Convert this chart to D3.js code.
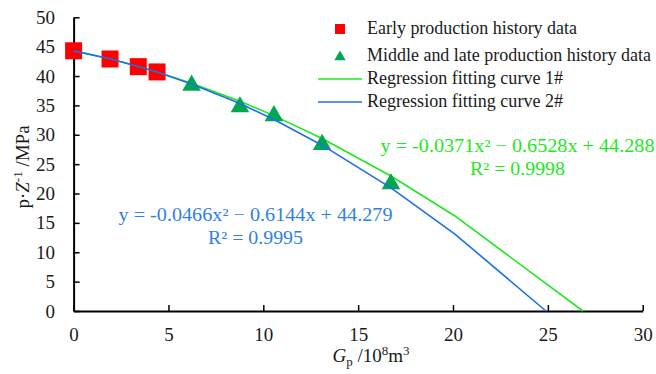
<!DOCTYPE html>
<html>
<head>
<meta charset="utf-8">
<script src="https://cdn.jsdelivr.net/npm/d3@7"></script>
<style>
  body { margin: 0; background: #fff; }
  svg { display: block; font-family: "Liberation Serif", "Times New Roman", serif; }
</style>
</head>
<body>
<div id="chart"></div>
<script>
var width = 656,
    height = 374;

// early production history (squares)
var earlyGp = [0, 1.92, 3.41, 4.4];
var earlyPZ = [44.3, 42.9, 41.6, 40.7];

// middle and late production history (triangles)
var lateGp = [6.22, 8.77, 10.56, 13.1, 16.73];
var latePZ = [38.6, 34.9, 33.4, 28.5, 21.8];

// fitted curves
var curveGp1 = [0, 1.92, 3.41, 4.4, 6.22, 8.77, 10.56, 13.1, 16.73, 20.1, 26.85];
var curvePZ1 = [44.29, 42.9, 41.63, 40.7, 38.79, 35.71, 33.26, 29.37, 22.98, 16.18, 0];
var curveGp2 = [0, 1.92, 3.41, 4.4, 6.22, 8.77, 10.56, 13.1, 16.73, 20.1, 24.9];
var curvePZ2 = [44.28, 42.93, 41.64, 40.67, 38.65, 35.31, 32.59, 28.23, 20.96, 13.1, 0];

var xTicks = [0, 5, 10, 15, 20, 25, 30];
var yTicks = [0, 5, 10, 15, 20, 25, 30, 35, 40, 45, 50];

var legendNames = ["Early production history data", "Middle and late production history data",
                   "Regression fitting curve 1#", "Regression fitting curve 2#"];
var legendLens = [210, 284, 196, 196];

var red = "#ff0000", dkgreen = "#00a650", green = "#1ee81e", blue = "#1f6fe8";
var fs = 19;

var x = d3.scaleLinear().domain([0, 30]).range([73.6, 642.7]);
var y = d3.scaleLinear().domain([0, 50]).range([311, 17.3]);

var svg = d3.select("#chart").append("svg")
    .attr("width", width)
    .attr("height", height);

// axes
var xAxis = svg.append("g")
    .attr("transform", "translate(0," + y(0) + ")")
    .call(d3.axisBottom(x).tickValues(xTicks).tickSizeInner(-6).tickSizeOuter(0).tickPadding(16.5));
var yAxis = svg.append("g")
    .attr("transform", "translate(" + x(0) + ",0)")
    .call(d3.axisLeft(y).tickValues(yTicks).tickSizeInner(-6).tickSizeOuter(0).tickPadding(18.5));

[xAxis, yAxis].forEach(function(a) {
  a.select(".domain").attr("stroke", "#000").attr("stroke-width", 2);
  a.selectAll(".tick line").attr("stroke", "#000").attr("stroke-width", 1.5);
  a.selectAll(".tick text")
    .attr("fill", "#1a1a1a")
    .style("font-family", "Liberation Serif, Times New Roman, serif")
    .style("font-size", fs + "px");
});

// curves
var line = d3.line()
    .x(function(d) { return x(d[0]); })
    .y(function(d) { return y(d[1]); });

svg.append("path")
    .datum(d3.zip(curveGp1, curvePZ1))
    .attr("d", line)
    .attr("fill", "none")
    .attr("stroke", green)
    .attr("stroke-width", 1.6);

// markers
var sq = 17;
svg.selectAll("rect.early")
    .data(d3.zip(earlyGp, earlyPZ))
    .enter().append("rect")
    .attr("class", "early")
    .attr("x", function(d) { return x(d[0]) - sq / 2; })
    .attr("y", function(d) { return y(d[1]) - sq / 2; })
    .attr("width", sq)
    .attr("height", sq)
    .attr("fill", red);

var tri = d3.symbol().type(d3.symbolTriangle).size(150);
svg.selectAll("path.late")
    .data(d3.zip(lateGp, latePZ))
    .enter().append("path")
    .attr("class", "late")
    .attr("d", tri)
    .attr("transform", function(d) { return "translate(" + x(d[0]) + "," + (y(d[1]) + 1) + ")"; })
    .attr("fill", dkgreen);

svg.append("path")
    .datum(d3.zip(curveGp2, curvePZ2))
    .attr("d", line)
    .attr("fill", "none")
    .attr("stroke", blue)
    .attr("stroke-width", 1.6);

// legend
var lg = svg.append("g");
var rowY = [29, 56, 79, 102];
lg.append("rect").attr("x", 335).attr("y", rowY[0] - 5).attr("width", 10).attr("height", 10).attr("fill", red);
lg.append("path").attr("d", d3.symbol().type(d3.symbolTriangle).size(55))
    .attr("transform", "translate(340," + (rowY[1] + 1) + ")").attr("fill", dkgreen);
lg.append("line").attr("x1", 318).attr("x2", 362).attr("y1", rowY[2]).attr("y2", rowY[2])
    .attr("stroke", green).attr("stroke-width", 1.6);
lg.append("line").attr("x1", 318).attr("x2", 362).attr("y1", rowY[3]).attr("y2", rowY[3])
    .attr("stroke", blue).attr("stroke-width", 1.6);
lg.selectAll("text")
    .data(legendNames)
    .enter().append("text")
    .attr("x", 367)
    .attr("y", function(d, i) { return rowY[i]; })
    .attr("dy", "0.3em")
    .attr("font-size", 18)
    .attr("textLength", function(d, i) { return legendLens[i]; })
    .attr("lengthAdjust", "spacingAndGlyphs")
    .attr("fill", "#1a1a1a")
    .text(function(d) { return d; });

// equations
function eqText(cx, by, col, eq, r2) {
  svg.append("text").attr("x", cx - 137).attr("y", by)
      .attr("font-size", 18.5).attr("fill", col)
      .attr("textLength", 274).attr("lengthAdjust", "spacingAndGlyphs").text(eq);
  svg.append("text").attr("x", cx - 47.5).attr("y", by + 23)
      .attr("font-size", 18.5).attr("fill", col)
      .attr("textLength", 95).attr("lengthAdjust", "spacingAndGlyphs").text(r2);
}
eqText(517.5, 152, green, "y = -0.0371x\u00b2 \u2212 0.6528x + 44.288", "R\u00b2 = 0.9998");
eqText(255.5, 221, "#2f7fe8", "y = -0.0466x\u00b2 \u2212 0.6144x + 44.279", "R\u00b2 = 0.9995");

// axis titles
var xl = svg.append("text").attr("x", 371).attr("y", 362).attr("text-anchor", "middle")
    .attr("font-size", fs).attr("fill", "#1a1a1a");
xl.append("tspan").attr("font-style", "italic").text("G");
xl.append("tspan").attr("font-size", 13).attr("dy", 4).text("p");
xl.append("tspan").attr("dy", -4).text(" /10");
xl.append("tspan").attr("font-size", 13).attr("dy", -7).text("8");
xl.append("tspan").attr("dy", 7).text("m");
xl.append("tspan").attr("font-size", 13).attr("dy", -7).text("3");

var yl = svg.append("text").attr("transform", "translate(29,167) rotate(-90)")
    .attr("text-anchor", "middle").attr("font-size", fs).attr("fill", "#1a1a1a");
yl.append("tspan").text("p\u00b7");
yl.append("tspan").attr("font-style", "italic").text("Z");
yl.append("tspan").attr("font-size", 13).attr("dy", -7).text("-1");
yl.append("tspan").attr("dy", 7).text(" /MPa");
</script>
</body>
</html>
